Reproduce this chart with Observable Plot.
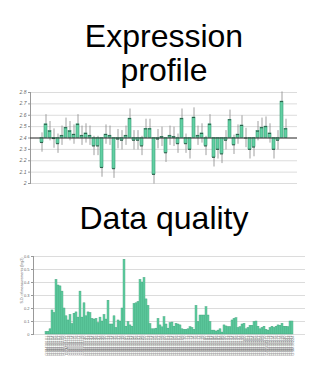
<!DOCTYPE html>
<html><head><meta charset="utf-8">
<script src="https://cdn.jsdelivr.net/npm/d3@7"></script>
<script src="https://cdn.jsdelivr.net/npm/@observablehq/plot@0.6"></script>
<style>
html,body{margin:0;padding:0;background:#fff;}
#root{position:relative;width:333px;height:370px;overflow:hidden;font-family:"Liberation Sans",Arial,sans-serif;}
.title{position:absolute;left:0;width:328px;text-align:center;font-size:32px;line-height:34px;color:#000;}
#t1{top:19px;}
#t2{top:201px;}
#c1{position:absolute;left:0;top:85px;}
#c2{position:absolute;left:0;top:248px;}
</style></head>
<body><div id="root">
<div class="title" id="t1">Expression<br>profile</div>
<div id="c1"></div>
<div class="title" id="t2">Data quality</div>
<div id="c2"></div>
</div>
<script>
// ---- Data ----
const exprValues = [2.36,2.52,2.46,2.395,2.35,2.42,2.49,2.46,2.43,2.52,2.42,2.44,2.42,2.33,2.33,2.14,2.43,2.42,2.13,2.39,
  2.38,2.42,2.57,2.38,2.38,2.33,2.48,2.48,2.08,2.39,2.41,2.27,2.42,2.41,2.35,2.57,2.35,2.30,2.58,2.42,
  2.44,2.33,2.52,2.23,2.30,2.26,2.38,2.56,2.34,2.43,2.51,2.40,2.30,2.32,2.46,2.49,2.50,2.44,2.30,2.38,
  2.72,2.48];
const exprErr = 0.085;
const exprBaseline = 2.4;
const exprTicks = [2.0,2.1,2.2,2.3,2.4,2.5,2.6,2.7,2.8];

const qualityValues = [0.02,0.02,0.04,0.185,0.165,0.42,0.377,0.37,0.33,0.2,0.14,0.108,0.15,0.08,0.16,0.17,0.13,0.33,0.13,0.24,
  0.14,0.17,0.165,0.12,0.115,0.12,0.087,0.13,0.1,0.15,0.115,0.26,0.077,0.077,0.14,0.05,0.108,0.1,0.2,0.575,
  0.06,0.095,0.07,0.06,0.235,0.24,0.25,0.42,0.40,0.435,0.27,0.22,0.08,0.04,0.04,0.045,0.12,0.07,0.055,0.133,
  0.077,0.045,0.087,0.092,0.06,0.082,0.077,0.07,0.04,0.036,0.036,0.04,0.056,0.05,0.036,0.22,0.095,0.146,0.146,0.146,
  0.21,0.146,0.095,0.03,0.03,0.023,0.03,0.04,0.015,0.07,0.062,0.056,0.056,0.108,0.12,0.125,0.05,0.056,0.077,0.082,
  0.04,0.05,0.067,0.067,0.095,0.1,0.06,0.04,0.05,0.06,0.036,0.03,0.05,0.06,0.05,0.06,0.07,0.067,0.082,0.06,
  0.06,0.056,0.1,0.1];
const qualityTicks = [0,0.1,0.2,0.3,0.4,0.5,0.6];
const qualityLabel = "S.D. of measurements (log2)";
const sampleIds = ("GSM38101 GSM38102 GSM38103 GSM38104 GSM38105 GSM38106 GSM38107 GSM38108 GSM38109 GSM38110 " +
  "GSM38111 GSM38112 GSM38113 GSM38114 GSM38115 GSM38116 GSM38117 GSM38118 GSM38119 GSM38120 " +
  "GSM38121 GSM38122 GSM38123 GSM38124 GSM38125 GSM38126 GSM38127 GSM38128 GSM38129 GSM38130 " +
  "GSM38131 GSM38132 GSM38133 GSM38134 GSM38135 GSM38136 GSM38137 GSM38138 GSM38139 GSM38140 " +
  "GSM38141 GSM38142 GSM38143 GSM38144 GSM38145 GSM38146 GSM38147 GSM38148 GSM38149 GSM38150 " +
  "GSM38151 GSM38152 GSM38153 GSM38154 GSM38155 GSM38156 GSM38157 GSM38158 GSM38159 GSM38160 " +
  "GSM38161 GSM38162 GSM38163 GSM38164 GSM38165 GSM38166 GSM38167 GSM38168 GSM38169 GSM38170 " +
  "GSM38171 GSM38172 GSM38173 GSM38174 GSM38175 GSM38176 GSM38177 GSM38178 GSM38179 GSM38180 " +
  "GSM38181 GSM38182 GSM38183 GSM38184 GSM38185 GSM38186 GSM38187 GSM38188 GSM38189 GSM38190 " +
  "GSM38191 GSM38192 GSM38193 GSM38194 GSM38195 GSM38196 GSM38197 GSM38198 GSM38199 GSM38200 " +
  "GSM38201 GSM38202 GSM38203 GSM38204 GSM38205 GSM38206 GSM38207 GSM38208 GSM38209 GSM38210 " +
  "GSM38211 GSM38212 GSM38213 GSM38214 GSM38215 GSM38216 GSM38217 GSM38218 GSM38219 GSM38220 " +
  "GSM38221 GSM38222 GSM38223 GSM38224").split(" ");

// ---- Styles ----
const barFill = "#62d0a3", barStroke = "#3a9c75";
const fmt = d => String(+d.toFixed(1));

// ---- Expression profile ----
const groups = exprValues.map((v, i) => sampleIds[2 * i]);
const exprData = exprValues.map((v, i) => ({g: groups[i], v}));

const c1 = Plot.plot({
  width: 333, height: 105,
  marginLeft: 30, marginRight: 36, marginTop: 7, marginBottom: 7,
  style: {fontSize: "5px", fontFamily: "Liberation Sans, Arial, sans-serif", background: "transparent"},
  x: {type: "band", domain: groups, paddingInner: 0.3, paddingOuter: 0.15, axis: null},
  y: {domain: [2.0, 2.8], label: null},
  marks: [
    Plot.gridY(exprTicks, {stroke: "#dcdcdc", strokeOpacity: 1}),
    Plot.axisY(exprTicks, {tickSize: 2, tickPadding: 2, tickFormat: fmt, fill: "#666", stroke: "#999", fontStyle: "italic", label: null}),
    Plot.frame({anchor: "left", stroke: "#999"}),
    Plot.ruleX(exprData, {x: "g", y1: d => d.v - exprErr, y2: d => d.v + exprErr, stroke: "#888", strokeWidth: 0.8}),
    Plot.barY(exprData, {x: "g", y1: exprBaseline, y2: "v", fill: barFill, stroke: barStroke, strokeWidth: 0.6}),
    Plot.tickY(exprData, {x: "g", y: "v", stroke: "#2c5e4a", strokeWidth: 1}),
    Plot.ruleY([exprBaseline], {stroke: "#333", strokeWidth: 1})
  ]
});
document.getElementById("c1").append(c1);

// ---- Data quality ----
const qualData = qualityValues.map((v, i) => ({s: sampleIds[i], v}));
const c2 = Plot.plot({
  width: 333, height: 122,
  marginLeft: 33, marginRight: 28, marginTop: 8, marginBottom: 36,
  style: {fontSize: "4px", fontFamily: "Liberation Sans, Arial, sans-serif", background: "transparent"},
  x: {type: "band", domain: sampleIds, paddingInner: 0.1, paddingOuter: 0.05, label: null},
  y: {domain: [0, 0.6], label: null},
  marks: [
    Plot.gridY(qualityTicks, {stroke: "#dcdcdc", strokeOpacity: 1}),
    Plot.axisY(qualityTicks, {tickSize: 2, tickPadding: 2, tickFormat: fmt, fill: "#666", stroke: "#999", fontSize: 4, label: null}),
    Plot.frame({anchor: "left", stroke: "#999"}),
    Plot.barY(qualData, {x: "s", y: "v", fill: barFill, stroke: barStroke, strokeWidth: 0.4}),
    Plot.axisX({tickRotate: -90, tickSize: 0, tickPadding: 1, fontSize: 4, fill: "#777", label: null}),
    Plot.text([qualityLabel], {frameAnchor: "left", rotate: -90, dx: -12, dy: 8, fontSize: 3.6, fill: "#666"})
  ]
});
document.getElementById("c2").append(c2);
</script>
</body></html>
